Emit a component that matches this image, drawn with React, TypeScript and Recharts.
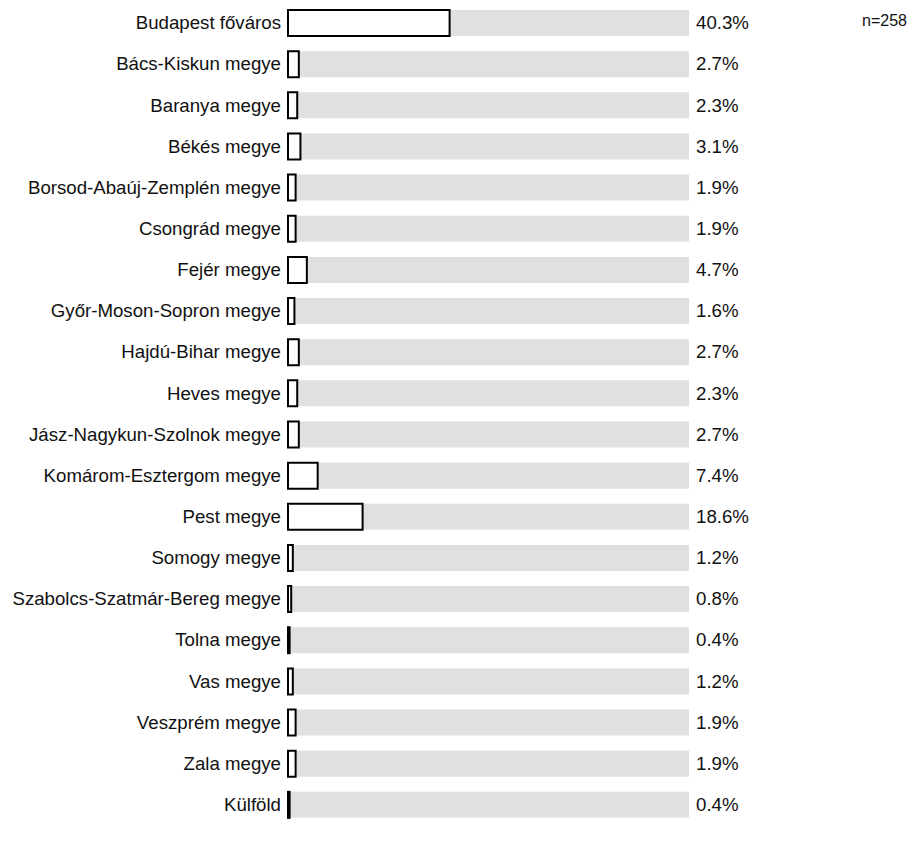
import React from "react";
import { BarChart, Bar, XAxis, YAxis } from "recharts";

const categories: string[] = [
  "Budapest főváros",
  "Bács-Kiskun megye",
  "Baranya megye",
  "Békés megye",
  "Borsod-Abaúj-Zemplén megye",
  "Csongrád megye",
  "Fejér megye",
  "Győr-Moson-Sopron megye",
  "Hajdú-Bihar megye",
  "Heves megye",
  "Jász-Nagykun-Szolnok megye",
  "Komárom-Esztergom megye",
  "Pest megye",
  "Somogy megye",
  "Szabolcs-Szatmár-Bereg megye",
  "Tolna megye",
  "Vas megye",
  "Veszprém megye",
  "Zala megye",
  "Külföld",
];

const values: number[] = [
  40.3, 2.7, 2.3, 3.1, 1.9, 1.9, 4.7, 1.6, 2.7, 2.3, 2.7, 7.4, 18.6, 1.2, 0.8,
  0.4, 1.2, 1.9, 1.9, 0.4,
];

const sampleLabel = "n=258";

const data = categories.map((name, i) => ({ name, value: values[i] }));
const valueByName: Record<string, number> = {};
data.forEach((d) => (valueByName[d.name] = d.value));

const FONT = "'Liberation Sans', Arial, sans-serif";

export default function App() {
  return (
    <div style={{ position: "absolute", left: 0, top: 0, width: 922, height: 843, background: "#fff" }}>
      <BarChart
        width={922}
        height={843}
        data={data}
        layout="vertical"
        margin={{ top: 2, right: 0, bottom: 18, left: 0 }}
        barSize={26}
      >
        <XAxis type="number" domain={[0, 100]} hide />
        <YAxis
          yAxisId="left"
          type="category"
          dataKey="name"
          width={288}
          tickLine={false}
          axisLine={false}
          tickSize={0}
          tickMargin={7}
          interval={0}
          tick={{ fill: "#111", fontSize: 18.67, fontFamily: FONT }}
        />
        <YAxis
          yAxisId="right"
          orientation="right"
          type="category"
          dataKey="name"
          width={233}
          tickLine={false}
          axisLine={false}
          tickSize={0}
          tickMargin={7}
          interval={0}
          tickFormatter={(n: string) => `${valueByName[n].toFixed(1)}%`}
          tick={{ fill: "#111", fontSize: 18.67, fontFamily: FONT, textAnchor: "start" }}
        />
        <Bar
          yAxisId="left"
          dataKey="value"
          fill="#ffffff"
          stroke="#000000"
          strokeWidth={2}
          background={{ fill: "#e0e0e0", stroke: "none" }}
          isAnimationActive={false}
        />
      </BarChart>
      <div
        style={{
          position: "absolute",
          left: 862,
          top: 11,
          fontFamily: FONT,
          fontSize: 16,
          lineHeight: "20px",
          color: "#111",
        }}
      >
        {sampleLabel}
      </div>
    </div>
  );
}
